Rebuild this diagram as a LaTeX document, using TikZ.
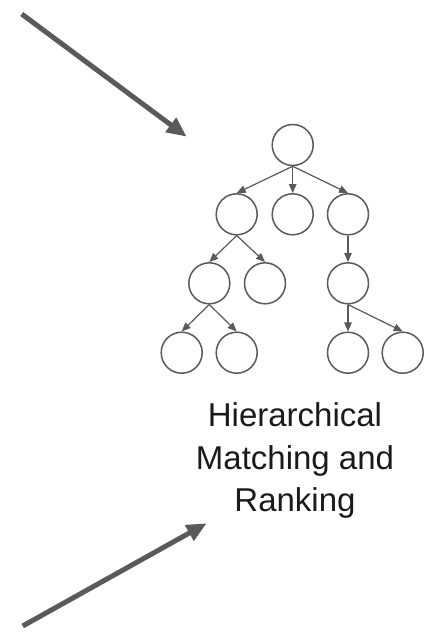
\documentclass[tikz,border=0pt]{standalone}
\usepackage{fontspec}
\setmainfont{Liberation Sans}
\usepackage{tikz}
\usetikzlibrary{arrows.meta, positioning}
\definecolor{ink}{HTML}{5A5A5A}
\definecolor{txt}{HTML}{1A1A1A}

\begin{document}
\begin{tikzpicture}[
  x=1pt, y=-1pt,
  leaf/.style={draw=ink, line width=1.5pt, circle, minimum size=41pt, inner sep=0pt},
  edge/.style={-{Triangle[length=9pt, width=7.5pt]}, draw=ink, fill=ink, line width=1.2pt},
  bigarr/.style={-{Triangle[length=20pt, width=17pt]}, draw=ink, fill=ink, line width=5pt},
  caption/.style={font=\fontsize{33}{42.5}\selectfont, color=txt, align=center, inner sep=0pt}
]
  \useasboundingbox (0,0) rectangle (424,634);

  % tree, level by level
  \node[leaf] (root) at (292.7,145) {};
  \node[leaf] (l1a) at (236.7,214.3) {};
  \node[leaf] (l1b) at (292.7,214.3) {};
  \node[leaf] (l1c) at (348,214.3) {};
  \node[leaf] (l2a) at (209.3,283.3) {};
  \node[leaf] (l2b) at (265,283.3) {};
  \node[leaf] (l2c) at (348,283.3) {};
  \node[leaf] (l3a) at (181.7,352.7) {};
  \node[leaf] (l3b) at (236.7,352.7) {};
  \node[leaf] (l3c) at (348,352.7) {};
  \node[leaf] (l3d) at (402.7,352.7) {};

  \foreach \p/\c in {root/l1a, root/l1b, root/l1c, l1a/l2a, l1a/l2b, l1c/l2c,
                     l2a/l3a, l2a/l3b, l2c/l3c, l2c/l3d}
    \draw[edge] (\p.south) -- (\c.north);

  % base is the last line here
  \node[caption, anchor=base] (title) at (295,511.7)
    {Hierarchical\\Matching and\\Ranking};

  % incoming arrows
  \coordinate (inA) at (21.7,14);
  \coordinate (tipA) at (186.7,136.7);
  \coordinate (inB) at (22.7,626);
  \coordinate (tipB) at (206.7,523.3);
  \draw[bigarr] (inA) -- (tipA);
  \draw[bigarr] (inB) -- (tipB);
\end{tikzpicture}
\end{document}
